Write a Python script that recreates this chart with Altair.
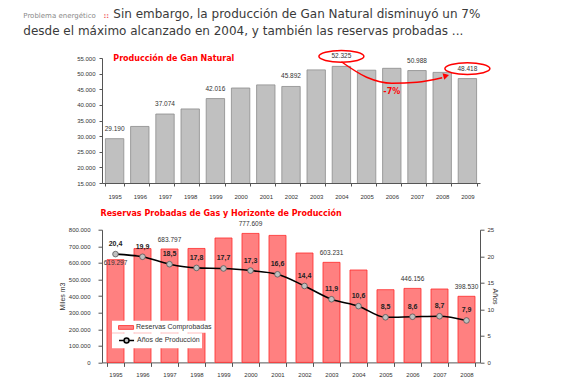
import altair as alt
import pandas as pd

# ---------------- data ----------------
header_small = "Problema energético"
header_sep = "::"
header_line1 = "Sin embargo, la producción de Gan Natural disminuyó un 7%"
header_line2 = "desde el máximo alcanzado en 2004, y también las reservas probadas ..."

prod_title = "Producción de Gan Natural"
prod_years = list(range(1995, 2010))
prod_values = [29190, 33100, 37074, 38700, 42016, 45400, 46400, 45892,
               51200, 52325, 51100, 51700, 50988, 50400, 48418]
prod_labeled_years = [1995, 1997, 1999, 2002, 2004, 2007, 2009]
prod_circled_years = [2004, 2009]
arrow_years = [2004, 2005, 2006, 2007, 2008]
arrow_values = [53800, 48860, 46940, 47260, 48700]
change_text = ["-7%"]
change_year = [2006]
change_value = [44000]

res_title = "Reservas Probadas de Gas  y Horizonte de Producción"
res_years = list(range(1995, 2009))
res_values = [619297, 686000, 683797, 687000, 750000, 777609, 765600,
              659500, 603231, 557000, 438300, 446156, 442500, 398530]
res_labeled_years = [1997, 2000, 2003, 2006, 2008]
res_low_label_years = [1995]
horizon_values = [20.4, 19.9, 18.5, 17.8, 17.7, 17.3, 16.6, 14.4,
                  11.9, 10.6, 8.5, 8.6, 8.7, 7.9]
res_series = "Reservas Comprobadas"
horizon_series = "Años de Producción"

# ---------------- styles ----------------
FONT = "Liberation Sans"
HFONT = "DejaVu Sans"
TXT = "#333333"
AX = "#555555"
RED = "#FF0000"
W = 378
TOP_H = 125
GAP = 46.7

k = 0.5523
r = 0.26
ELLIPSE = (f"M1,0C1,{k*r:.4f} {k},{r} 0,{r}C{-k},{r} -1,{k*r:.4f} -1,0"
           f"C-1,{-k*r:.4f} {-k},{-r} 0,{-r}C{k},{-r} 1,{-k*r:.4f} 1,0Z")
RECT = "M-1.67,-0.42H1.67V0.42H-1.67Z"
c = 0.55
kc = round(k * c, 3)
LINESYM = (f"M-1.67,0H{-c}M{c},0H1.67"
           f"M{c},0C{c},{kc} {kc},{c} 0,{c}C{-kc},{c} {-c},{kc} {-c},0"
           f"C{-c},{-kc} {-kc},{-c} 0,{-c}C{kc},{-c} {c},{-kc} {c},0Z")

# ---------------- top chart ----------------
top_df = pd.DataFrame({"year": prod_years, "value": prod_values})
arrow_df = pd.DataFrame({"year": arrow_years, "value": arrow_values})
change_df = pd.DataFrame({"year": change_year, "value": change_value, "text": change_text})

x_top = alt.X("year:O",
              scale=alt.Scale(domain=prod_years, paddingInner=0.27, paddingOuter=0.135),
              axis=alt.Axis(title=None, labelAngle=0, tickBand="extent", tickSize=3,
                            labelPadding=7, labelFont=FONT, labelFontSize=6,
                            labelColor=TXT, domainColor=AX, tickColor=AX))
y_top = alt.Y("value:Q",
              scale=alt.Scale(domain=[15000, 55000], nice=False, zero=False),
              axis=alt.Axis(title=None, values=list(range(15000, 55001, 5000)),
                            format=",d", tickSize=3, labelPadding=4, labelFont=FONT,
                            labelFontSize=6, labelColor=TXT, domainColor=AX,
                            tickColor=AX, grid=False))

bars_t = alt.Chart(top_df).mark_bar(fill="#C0C0C0", stroke="#8C8C8C",
                                    strokeWidth=0.8, clip=True).encode(x_top, y_top)
labels_t = alt.Chart(top_df).transform_filter(
    alt.FieldOneOfPredicate(field="year", oneOf=prod_labeled_years)
).mark_text(dy=-10, font=FONT, fontSize=6.5, color=TXT).encode(
    x_top, y_top, text=alt.Text("value:Q", format=",d"))
ellipses_t = alt.Chart(top_df).transform_filter(
    alt.FieldOneOfPredicate(field="year", oneOf=prod_circled_years)
).mark_point(shape=ELLIPSE, size=2025, filled=False, stroke=RED, strokeWidth=1.5,
             opacity=1, yOffset=-10).encode(x_top, y_top)
arrow_t = alt.Chart(arrow_df).mark_line(interpolate="monotone", color=RED,
                                        strokeWidth=1.5).encode(x_top, y_top)
head_t = alt.Chart(arrow_df).transform_filter(
    alt.datum.year == arrow_years[-1]
).mark_point(shape="triangle-right", filled=True, color=RED, size=45, angle=345,
             xOffset=4, yOffset=-2, opacity=1).encode(x_top, y_top)
change_t = alt.Chart(change_df).mark_text(font=HFONT, fontWeight="bold", fontSize=8,
                                          color=RED).encode(x_top, y_top, text="text:N")


def label(txt, x, y, **kw):
    return alt.Chart(pd.DataFrame({"t": [txt]})).mark_text(align="left", **kw).encode(
        x=alt.value(x), y=alt.value(y), text="t:N")


title_t = label(prod_title, 11.3, 1, baseline="middle", font=HFONT, fontWeight="bold",
                fontSize=8, color=RED)
h_small = label(header_small, -78.7, -39.7, baseline="alphabetic", font=HFONT,
                fontSize=7, color="#8A8A8A")
h_sep = label(header_sep, 1.5, -39.7, baseline="alphabetic", font=HFONT,
              fontSize=7, fontWeight="bold", color="#F06060")
h_l1 = label(header_line1, 11.3, -39.7, baseline="alphabetic", font=HFONT,
             fontSize=12, color="#3A3A3A")
h_l2 = label(header_line2, -78.7, -23.2, baseline="alphabetic", font=HFONT,
             fontSize=12, color="#3A3A3A")

top = alt.layer(bars_t, labels_t, ellipses_t, arrow_t, head_t, change_t,
                title_t, h_small, h_sep, h_l1, h_l2).properties(width=W, height=TOP_H)

# ---------------- bottom chart ----------------
bot_df = pd.DataFrame({"year": res_years, "value": res_values,
                       "horizon": horizon_values,
                       "serie": [res_series] * len(res_years),
                       "serie2": [horizon_series] * len(res_years)})

x_bot = alt.X("year:O",
              scale=alt.Scale(domain=res_years, paddingInner=0.37, paddingOuter=0.185),
              axis=alt.Axis(title=None, labelAngle=0, tickBand="extent", tickSize=4,
                            labelPadding=5, labelFont=FONT, labelFontSize=6,
                            labelColor=TXT, domainColor=AX, tickColor=AX))
y_res = alt.Y("value:Q",
              scale=alt.Scale(domain=[0, 800000], nice=False),
              axis=alt.Axis(title="Miles m3", values=list(range(0, 800001, 100000)),
                            format=",d", tickSize=4, labelPadding=8, labelFont=FONT,
                            labelFontSize=6, labelColor=TXT, domainColor=AX,
                            tickColor=AX, grid=False, titleFont=FONT, titleFontSize=7,
                            titleFontWeight="normal", titleColor=TXT, titlePadding=3))
y_hor = alt.Y("horizon:Q",
              scale=alt.Scale(domain=[0, 25], nice=False),
              axis=alt.Axis(title="Años", orient="right", values=[0, 5, 10, 15, 20, 25],
                            tickSize=4, labelPadding=3, labelFont=FONT, labelFontSize=6,
                            labelColor=TXT, domainColor=AX, tickColor=AX, grid=False,
                            titleFont=FONT, titleFontSize=7, titleFontWeight="normal",
                            titleColor=TXT, titlePadding=-2))

# legends are positioned relative to the top panel's origin
LEG_Y = TOP_H + GAP + 91
LEG_PAD = 1.75
LEG_ROW = 9 + 2 * LEG_PAD

legend_common = dict(title=None, orient="none", legendX=10, fillColor="white",
                     padding=LEG_PAD, labelFont=FONT, labelFontSize=7, labelColor=TXT,
                     symbolSize=81, symbolOffset=7.3, labelOffset=5)

bars_b = alt.Chart(bot_df).mark_bar(stroke="#FF2A2A", strokeWidth=0.8).encode(
    x_bot, y_res,
    fill=alt.Fill("serie:N", scale=alt.Scale(domain=[res_series], range=["#FF8080"]),
                  legend=alt.Legend(legendY=LEG_Y, symbolType=RECT,
                                    symbolStrokeColor="#FF2A2A", symbolStrokeWidth=0.8,
                                    **legend_common)))
blabels = alt.Chart(bot_df).transform_filter(
    alt.FieldOneOfPredicate(field="year", oneOf=res_labeled_years)
).mark_text(dy=-9, font=FONT, fontSize=6.5, color=TXT).encode(
    x_bot, y_res, text=alt.Text("value:Q", format=",d"))
blabels_low = alt.Chart(bot_df).transform_filter(
    alt.FieldOneOfPredicate(field="year", oneOf=res_low_label_years)
).mark_text(dy=3, font=FONT, fontSize=6.5, color=TXT).encode(
    x_bot, y_res, text=alt.Text("value:Q", format=",d"))
title_b = label(res_title, -1.5, -16, baseline="middle", font=HFONT, fontWeight="bold",
                fontSize=8, color=RED)

line_b = alt.Chart(bot_df).mark_line(interpolate="monotone", strokeWidth=1.6).encode(
    x_bot, y_hor,
    stroke=alt.Stroke("serie2:N",
                      scale=alt.Scale(domain=[horizon_series], range=["#000000"]),
                      legend=alt.Legend(legendY=LEG_Y + LEG_ROW, symbolType=LINESYM,
                                        symbolStrokeWidth=1.5,
                                        symbolFillColor="#C0C0C0", **legend_common)))
pts_b = alt.Chart(bot_df).mark_point(filled=True, fill="#C0C0C0", stroke="#555555",
                                     strokeWidth=0.8, size=32, opacity=1).encode(x_bot, y_hor)
hlabels = alt.Chart(bot_df).mark_text(dy=-10, font=FONT, fontWeight="bold", fontSize=7,
                                      color="#222222").encode(
    x_bot, y_hor, text=alt.Text("horizon:Q", format=".1f"))

left_layer = alt.layer(bars_b, blabels, blabels_low, title_b)
right_layer = alt.layer(line_b, pts_b, hlabels)
bottom = alt.layer(left_layer, right_layer).resolve_scale(y="independent").properties(
    width=W, height=132.7)

chart = alt.vconcat(top, bottom, spacing=GAP, bounds="flush").properties(
    padding={"left": 15, "top": 0, "right": 6, "bottom": 2}
).configure(
    locale={"number": {"decimal": ",", "thousands": ".", "grouping": [3],
                       "currency": ["", ""]}}
).configure_view(stroke=None).configure_axis(grid=False)

chart.save("out.html", embed_options={"renderer": "svg", "actions": False})
